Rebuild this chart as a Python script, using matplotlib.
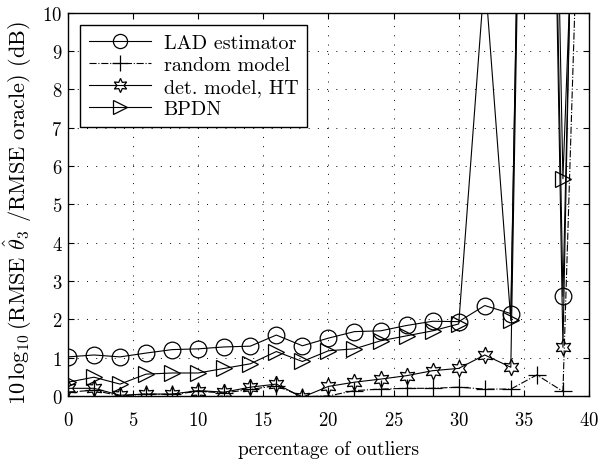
import numpy as np
import matplotlib
matplotlib.use("Agg")
import matplotlib.pyplot as plt

plt.rcParams['font.family'] = 'serif'
plt.rcParams['font.serif'] = ['cmr10', 'DejaVu Serif']
plt.rcParams['mathtext.fontset'] = 'cm'
plt.rcParams['axes.formatter.use_mathtext'] = True

# percentage of outliers
pct = [0, 2, 4, 6, 8, 10, 12, 14, 16, 18, 20, 22, 24, 26, 28, 30, 32, 34, 36, 38, 40]

lad = [1.02, 1.07, 1.02, 1.12, 1.21, 1.23, 1.28, 1.30, 1.59, 1.31, 1.51, 1.68, 1.70,
       1.84, 1.95, 1.94, 2.36, 2.15, 40.0, 2.60, 32.0]
rnd = [0.10, 0.15, 0.00, 0.05, 0.04, 0.12, 0.08, 0.17, 0.27, -0.02, 0.00, 0.14, 0.18,
       0.20, 0.20, 0.23, 0.18, 0.18, 0.55, 0.12, 22.0]
det = [0.20, 0.20, 0.02, 0.05, 0.05, 0.14, 0.10, 0.23, 0.31, -0.03, 0.25, 0.36, 0.44,
       0.53, 0.66, 0.72, 1.07, 0.75, 40.0, 1.27, 36.0]
bpdn = [0.36, 0.49, 0.31, 0.57, 0.60, 0.60, 0.72, 0.84, 1.16, 0.90, 1.18, 1.23, 1.44,
        1.57, 1.70, 1.88, 11.0, 1.97, 40.0, 5.67, 24.0]

labels = ['LAD estimator', 'random model', 'det. model, HT', 'BPDN']

fig = plt.figure(figsize=(6.01, 4.60), dpi=100)
ax = fig.add_axes([0.113, 0.137, 0.867, 0.833])

lw = 0.8
ax.plot(pct, lad, '-', color='k', lw=lw, marker='o', ms=12, mfc='none', mew=0.9, label=labels[0])
ax.plot(pct, rnd, '-.', color='k', lw=lw, marker='+', ms=13, mew=0.9, label=labels[1])
ax.plot(pct, det, '-', color='k', lw=lw, marker=(6, 1, 0), ms=12, mfc='none', mew=0.9, label=labels[2])
ax.plot(pct, bpdn, '-', color='k', lw=lw, marker='>', ms=12, mfc='none', mew=0.9, label=labels[3])

ax.set_xlim(0, 40)
ax.set_ylim(0, 10)
ax.set_xticks(np.arange(0, 41, 5))
ax.set_yticks(np.arange(0, 11, 1))
ax.grid(True, linestyle=(0, (1, 8.5)), color='k', lw=0.7)
ax.tick_params(direction='in', top=True, right=True, labelsize=13.5, length=4)
ax.tick_params(axis='x', pad=11)
ax.tick_params(axis='y', pad=4)
for s in ax.spines.values():
    s.set_linewidth(1.0)

ax.set_xlabel('percentage of outliers', fontsize=14, labelpad=8)
ax.set_ylabel(r'$10\,\log_{10}$(RMSE $\hat{\theta}_3$ /RMSE oracle) (dB)', fontsize=16)
ax.yaxis.set_label_coords(-0.066, 0.48)

leg = ax.legend(loc='upper left', fontsize=14.5, frameon=True, fancybox=False,
                edgecolor='k', framealpha=1, borderaxespad=0.6, handlelength=3.1,
                handletextpad=0.6, labelspacing=0.2, borderpad=0.45, markerscale=0.85)
leg.get_frame().set_linewidth(1.0)

fig.savefig('out.png', dpi=100)
